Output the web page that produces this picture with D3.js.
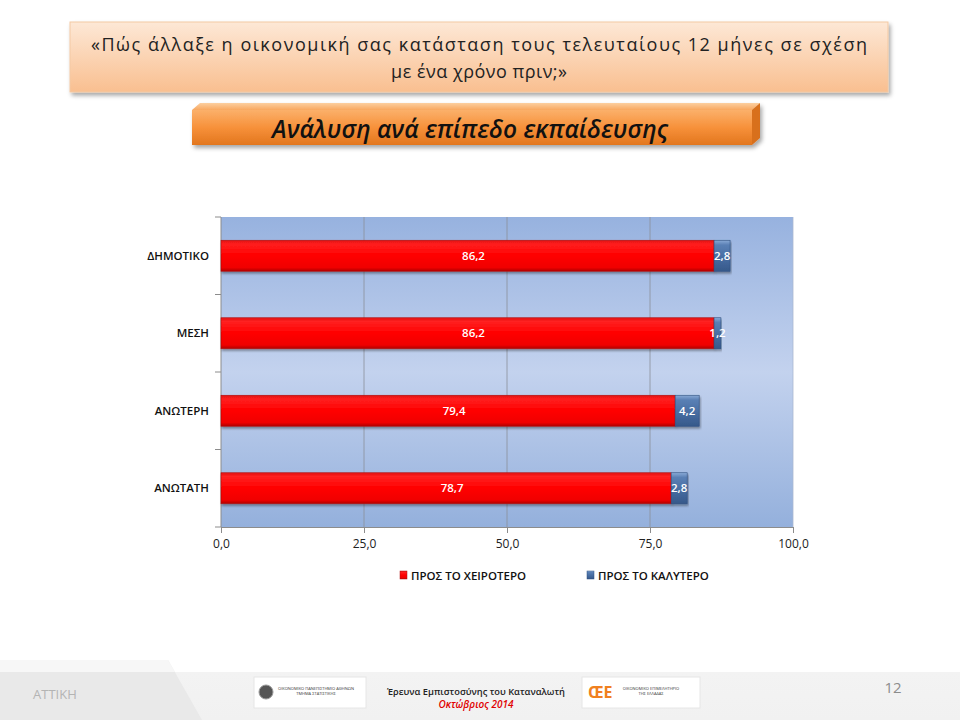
<!DOCTYPE html>
<html><head><meta charset="utf-8">
<script src="https://cdn.jsdelivr.net/npm/d3@7"></script>
<style>body{margin:0;background:#fff}svg{display:block}</style>
</head><body>
<script>
const categories = ["ΔΗΜΟΤΙΚΟ", "ΜΕΣΗ", "ΑΝΩΤΕΡΗ", "ΑΝΩΤΑΤΗ"];
const worse = [86.2, 86.2, 79.4, 78.7];
const better = [2.8, 1.2, 4.2, 2.8];
const seriesNames = ["ΠΡΟΣ ΤΟ ΧΕΙΡΟΤΕΡΟ", "ΠΡΟΣ ΤΟ ΚΑΛΥΤΕΡΟ"];
const xTicks = [0, 25, 50, 75, 100];
const titleLines = ["«Πώς άλλαξε η οικονομική σας κατάσταση τους τελευταίους 12 μήνες σε σχέση", "με ένα χρόνο πριν;»"];
const subtitle = "Ανάλυση ανά επίπεδο εκπαίδευσης";

(function(){
const W = 960, H = 720;
const svg = d3.select("body").append("svg").attr("width", W).attr("height", H);
const defs = svg.append("defs");
const font = "'Open Sans', 'Noto Sans', sans-serif";

function lg(id, stops, x2=0, y2=1) {
  const g = defs.append("linearGradient").attr("id", id).attr("x1",0).attr("y1",0).attr("x2",x2).attr("y2",y2);
  stops.forEach(s => g.append("stop").attr("offset", s[0]).attr("stop-color", s[1]));
}
lg("titleG", [[0,"#fde8d6"],[1,"#f9bf90"]]);
lg("subG", [[0,"#fbb06a"],[0.5,"#f7913a"],[1,"#e2761e"]]);
lg("subTop", [[0,"#fccfa0"],[1,"#f8a860"]]);
lg("plotG", [[0,"#97b2df"],[0.5,"#c3d2ee"],[1,"#94b0dc"]]);
lg("redG", [[0,"#e01010"],[0.12,"#ff2020"],[0.5,"#ff0000"],[0.88,"#f00000"],[1,"#b00000"]]);
lg("blueG", [[0,"#8aaad6"],[0.15,"#5a80b5"],[0.5,"#4a70a5"],[1,"#36588a"]]);
lg("footG", [[0,"#f3f3f3"],[1,"#f1f1f1"]]);
const sh = defs.append("filter").attr("id","shadow").attr("x","-5%").attr("y","-20%").attr("width","115%").attr("height","160%");
sh.append("feDropShadow").attr("dx",2).attr("dy",3).attr("stdDeviation",2).attr("flood-color","#000").attr("flood-opacity",0.35);
const bsh = defs.append("filter").attr("id","bshadow").attr("x","-5%").attr("y","-20%").attr("width","115%").attr("height","160%");
bsh.append("feDropShadow").attr("dx",1).attr("dy",2).attr("stdDeviation",1.2).attr("flood-color","#000").attr("flood-opacity",0.35);

// Title box
svg.append("rect").attr("x",70).attr("y",22).attr("width",818).attr("height",70)
  .attr("fill","url(#titleG)").attr("stroke","#f3c9a3").attr("stroke-width",1).attr("filter","url(#shadow)");
titleLines.forEach((t,i) => {
  const el = svg.append("text").attr("x",479).attr("y",51 + i*27).attr("text-anchor","middle")
    .attr("font-family",font).attr("font-size",18).attr("fill","#222").text(t);
  if (i === 0) el.attr("textLength", 776).attr("lengthAdjust", "spacing");
  else el.attr("textLength", 176).attr("lengthAdjust", "spacing");
});

// Subtitle 3D box
const sb = svg.append("g").attr("filter","url(#shadow)");
sb.append("path").attr("d","M192,110 L200,103 L760,103 L752,110 Z").attr("fill","url(#subTop)");
sb.append("path").attr("d","M752,110 L760,103 L760,138 L752,145 Z").attr("fill","#d8701c");
sb.append("rect").attr("x",192).attr("y",110).attr("width",560).attr("height",35).attr("fill","url(#subG)");
svg.append("text").attr("x",470).attr("y",138).attr("text-anchor","middle")
  .attr("font-family",font).attr("font-size",21).attr("font-style","italic").attr("font-weight",600)
  .attr("fill","#111").text(subtitle)
  .each(function(){ const L=this.getComputedTextLength(); if(L>0) d3.select(this).attr("font-size", 21*396/L); });

// Plot
const pL = 221, pR = 793, pT = 217, pB = 527;
const x = d3.scaleLinear().domain([0,100]).range([pL,pR]);
const y = d3.scaleBand().domain(categories).range([pT,pB]).paddingInner(0.6).paddingOuter(0.3);
const yb = d3.scaleBand().domain(categories).range([pT,pB]);

svg.append("rect").attr("x",pL).attr("y",pT).attr("width",pR-pL).attr("height",pB-pT).attr("fill","url(#plotG)");
svg.append("g").selectAll("line").data(xTicks.filter(d=>d>0 && d<100)).join("line")
  .attr("x1",d=>x(d)).attr("x2",d=>x(d)).attr("y1",pT).attr("y2",pB)
  .attr("stroke","#8a8f99").attr("stroke-width",0.8);
svg.append("line").attr("x1",pR).attr("x2",pR).attr("y1",pT).attr("y2",pB).attr("stroke","#a9b8d0").attr("stroke-width",0.8);

const xAxis = d3.axisBottom(x).tickValues(xTicks).tickSize(6).tickPadding(6)
  .tickFormat(d => d3.format(".1f")(d).replace(".", ","));
const gx = svg.append("g").attr("transform",`translate(0,${pB})`).call(xAxis);
gx.select(".domain").attr("stroke","#8c8c8c");
gx.selectAll(".tick line").attr("stroke","#8c8c8c");
gx.selectAll("text").attr("font-family",font).attr("font-size",12).attr("fill","#222");

const gy = svg.append("g").attr("transform",`translate(${pL},0)`);
gy.append("line").attr("x1",0).attr("x2",0).attr("y1",pT).attr("y2",pB).attr("stroke","#8c8c8c");
const bounds = categories.map(c => yb(c)).concat([pB]);
gy.selectAll(".tk").data(bounds).join("line").attr("class","tk").attr("x1",-6).attr("x2",0).attr("y1",d=>d).attr("y2",d=>d).attr("stroke","#8c8c8c");
gy.selectAll(".lbl").data(categories).join("text").attr("class","lbl")
  .attr("x",-12).attr("y",d=>y(d)+y.bandwidth()/2).attr("dy","0.35em").attr("text-anchor","end")
  .attr("font-family",font).attr("font-size",11.5).attr("font-weight",600).attr("fill","#111").text(d=>d);

const bars = svg.append("g");
const fmt = v => d3.format(".1f")(v).replace(".", ",");
categories.forEach((c,i) => {
  const by = y(c), bh = y.bandwidth();
  bars.append("rect").attr("x",x(0)).attr("y",by).attr("width",x(worse[i])-x(0)).attr("height",bh)
    .attr("fill","url(#redG)").attr("stroke","#b01010").attr("stroke-width",0.6).attr("filter","url(#bshadow)");
  bars.append("rect").attr("x",x(worse[i])).attr("y",by).attr("width",x(worse[i]+better[i])-x(worse[i])).attr("height",bh)
    .attr("fill","url(#blueG)").attr("stroke","#2f4f7f").attr("stroke-width",0.6).attr("filter","url(#bshadow)");
  bars.append("text").attr("x",(x(0)+x(worse[i]))/2 + 6).attr("y",by+bh/2).attr("dy","0.35em").attr("text-anchor","middle")
    .attr("font-family",font).attr("font-size",11.5).attr("font-weight",600).attr("fill","#fff").text(fmt(worse[i]));
  bars.append("text").attr("x",(x(worse[i])+x(worse[i]+better[i]))/2).attr("y",by+bh/2).attr("dy","0.35em").attr("text-anchor","middle")
    .attr("font-family",font).attr("font-size",11.5).attr("font-weight",600).attr("fill","#fff").text(fmt(better[i]));
});

const legendX = [400, 587];
const legFill = ["url(#redG)","url(#blueG)"];
seriesNames.forEach((s,i) => {
  svg.append("rect").attr("x",legendX[i]).attr("y",571).attr("width",7).attr("height",8).attr("fill",legFill[i]).attr("stroke", i?"#2f4f7f":"#b01010").attr("stroke-width",0.5);
  svg.append("text").attr("x",legendX[i]+11).attr("y",576).attr("dy","0.35em")
    .attr("font-family",font).attr("font-size",11.5).attr("font-weight",600).attr("fill","#111").text(s);
});

// footer
svg.append("rect").attr("x",0).attr("y",672).attr("width",W).attr("height",48).attr("fill","url(#footG)");
svg.append("path").attr("d","M0,660 L168,660 L202,720 L0,720 Z").attr("fill","#e9e9e9");
svg.append("path").attr("d","M0,660 L168,660 L175,672 L0,672 Z").attr("fill","#f7f7f7");
svg.append("text").attr("x",33).attr("y",699).attr("font-family",font).attr("font-size",13).attr("fill","#b4b4b4").text("ΑΤΤΙΚΗ");
svg.append("rect").attr("x",254).attr("y",677).attr("width",112).attr("height",31).attr("fill","#fff").attr("stroke","#e6e6e6");
svg.append("circle").attr("cx",266).attr("cy",692).attr("r",7).attr("fill","#555").attr("stroke","#999");
svg.append("text").attr("x",316).attr("y",690).attr("text-anchor","middle").attr("font-family",font).attr("font-size",4).attr("fill","#333").text("ΟΙΚΟΝΟΜΙΚΟ ΠΑΝΕΠΙΣΤΗΜΙΟ ΑΘΗΝΩΝ");
svg.append("text").attr("x",316).attr("y",695).attr("text-anchor","middle").attr("font-family",font).attr("font-size",4).attr("fill","#333").text("ΤΜΗΜΑ ΣΤΑΤΙΣΤΙΚΗΣ");
svg.append("rect").attr("x",582).attr("y",677).attr("width",118).attr("height",31).attr("fill","#fff").attr("stroke","#e6e6e6");
svg.append("text").attr("x",588).attr("y",698).attr("font-family",font).attr("font-size",16).attr("font-weight",700).attr("fill","#f08020").text("ŒE");
svg.append("text").attr("x",651).attr("y",690).attr("text-anchor","middle").attr("font-family",font).attr("font-size",4).attr("fill","#333").text("ΟΙΚΟΝΟΜΙΚΟ ΕΠΙΜΕΛΗΤΗΡΙΟ");
svg.append("text").attr("x",651).attr("y",695).attr("text-anchor","middle").attr("font-family",font).attr("font-size",4).attr("fill","#333").text("ΤΗΣ ΕΛΛΑΔΑΣ");
svg.append("text").attr("x",476).attr("y",695).attr("text-anchor","middle").attr("font-family",font).attr("font-size",11).attr("font-weight",600).attr("fill","#222").text("Έρευνα Εμπιστοσύνης του Καταναλωτή")
  .each(function(){ const L=this.getComputedTextLength(); if(L>0) d3.select(this).attr("font-size", 11*178/L); });
svg.append("text").attr("x",476).attr("y",708).attr("text-anchor","middle").attr("font-family",font).attr("font-size",10).attr("font-style","italic").attr("font-weight",600).attr("fill","#e00000").text("Οκτώβριος 2014");
svg.append("text").attr("x",893).attr("y",693).attr("text-anchor","middle").attr("font-family",font).attr("font-size",15).attr("fill","#8c8c8c").text("12");
})();
</script>
</body></html>
